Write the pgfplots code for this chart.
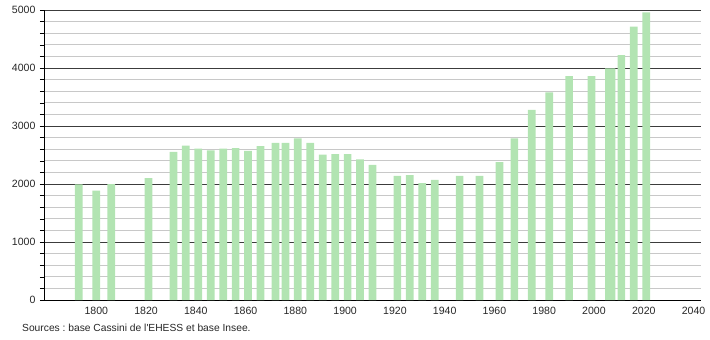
\documentclass[border=0pt]{standalone}
\usepackage{pgfplots}
\pgfplotsset{compat=1.18}
\usepackage{fontspec}
\setmainfont{Liberation Sans}
\frenchspacing
\definecolor{bargreen}{RGB}{178,228,178}
\definecolor{minorgrid}{RGB}{200,200,200}
\definecolor{majorgrid}{RGB}{60,60,60}
\begin{document}
\begin{tikzpicture}[x=1bp,y=1bp]
\begin{axis}[
  scale only axis,
  width=657bp, height=290bp,
  xmin=1779, xmax=2043,
  ymin=0, ymax=5000,
  axis x line*=bottom,
  axis y line*=left,
  xtick={1800,1820,...,2040},
  ytick={0,1000,...,5000},
  minor ytick={200,400,...,4800},
  xticklabel style={/pgf/number format/1000 sep={}},
  yticklabel style={/pgf/number format/1000 sep={}, xshift=-1bp},
  /pgf/number format/assume math mode=true,
  tick label style={font=\fontsize{10.6}{12}\selectfont, text=black!85},
  major x tick style={draw=none},
  major y tick style={black, line width=0.6pt},
  minor y tick style={black, line width=0.6pt},
  tickpos=left,
  tick align=outside,
  major tick length=4bp,
  minor tick length=4bp,
  ymajorgrids, yminorgrids,
  major grid style={majorgrid, line width=0.7pt},
  minor grid style={minorgrid, line width=0.7pt},
  axis line style={black, line width=0.8pt},
  ybar, bar width=3.1, bar shift=0pt,
  enlargelimits=false,
  clip=false,
]
\addplot[fill=bargreen, draw=none] coordinates {
(1793,1995) (1800,1884) (1806,2000) (1821,2103) (1831,2552) (1836,2661)
(1841,2609) (1846,2581) (1851,2609) (1856,2620) (1861,2569) (1866,2655)
(1872,2707) (1876,2707) (1881,2787) (1886,2707) (1891,2506) (1896,2517)
(1901,2517) (1906,2425) (1911,2328) (1921,2138) (1926,2155) (1931,2017)
(1936,2069) (1946,2138) (1954,2138) (1962,2379) (1968,2787) (1975,3276)
(1982,3580) (1990,3862) (1999,3862) (2006,3994) (2007,3994) (2011,4224)
(2016,4713) (2021,4960)
};
\end{axis}
\node[anchor=west, font=\fontsize{10.3}{12}\selectfont, text=black!85, inner sep=0pt] at ([xshift=-22bp,yshift=-28bp]current axis.south west) {Sources : base Cassini de l\textquotesingle EHESS et base Insee.};
\useasboundingbox (current axis.south west) ++(-44bp,-40bp) rectangle ++(710bp,340bp);
\end{tikzpicture}
\end{document}
